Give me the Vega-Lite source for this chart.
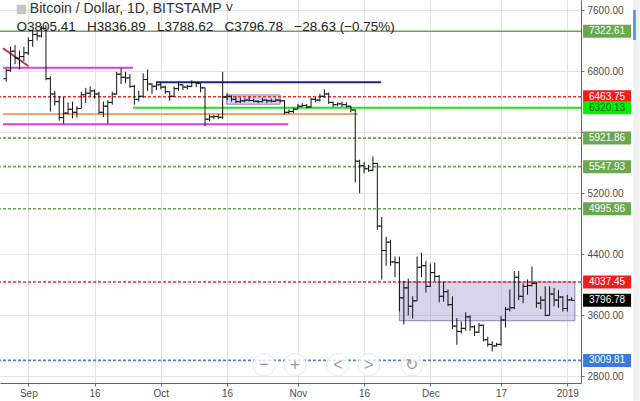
{
"$schema":"https://vega.github.io/schema/vega-lite/v6.json",
"width":581,"height":383,
"autosize":{"type":"none"},
"padding":{"left":0,"top":0,"right":59,"bottom":18},
"background":"#ffffff",
"config":{"view":{"stroke":null},"font":"Liberation Sans"},
"datasets":{
"ohlc":[
{"t":"2018-08-27","o":6700,"h":6830,"l":6660,"c":6810},
{"t":"2018-08-28","o":6810,"h":7120,"l":6790,"c":7060},
{"t":"2018-08-29","o":7060,"h":7140,"l":6890,"c":6970},
{"t":"2018-08-30","o":6970,"h":7070,"l":6820,"c":6990},
{"t":"2018-08-31","o":6990,"h":7120,"l":6930,"c":7040},
{"t":"2018-09-01","o":7040,"h":7240,"l":7010,"c":7200},
{"t":"2018-09-02","o":7200,"h":7340,"l":7120,"c":7280},
{"t":"2018-09-03","o":7280,"h":7320,"l":7200,"c":7260},
{"t":"2018-09-04","o":7260,"h":7390,"l":7240,"c":7360},
{"t":"2018-09-05","o":7360,"h":7400,"l":6680,"c":6700},
{"t":"2018-09-06","o":6700,"h":6730,"l":6270,"c":6500},
{"t":"2018-09-07","o":6500,"h":6540,"l":6350,"c":6400},
{"t":"2018-09-08","o":6400,"h":6470,"l":6150,"c":6190},
{"t":"2018-09-09","o":6190,"h":6460,"l":6110,"c":6250},
{"t":"2018-09-10","o":6250,"h":6390,"l":6230,"c":6300},
{"t":"2018-09-11","o":6300,"h":6400,"l":6180,"c":6260},
{"t":"2018-09-12","o":6260,"h":6340,"l":6190,"c":6310},
{"t":"2018-09-13","o":6310,"h":6530,"l":6310,"c":6490},
{"t":"2018-09-14","o":6490,"h":6580,"l":6380,"c":6510},
{"t":"2018-09-15","o":6510,"h":6600,"l":6470,"c":6540},
{"t":"2018-09-16","o":6540,"h":6560,"l":6440,"c":6500},
{"t":"2018-09-17","o":6500,"h":6530,"l":6240,"c":6260},
{"t":"2018-09-18","o":6260,"h":6400,"l":6200,"c":6340},
{"t":"2018-09-19","o":6340,"h":6420,"l":6110,"c":6390},
{"t":"2018-09-20","o":6390,"h":6530,"l":6360,"c":6500},
{"t":"2018-09-21","o":6500,"h":6790,"l":6490,"c":6760},
{"t":"2018-09-22","o":6760,"h":6840,"l":6630,"c":6720},
{"t":"2018-09-23","o":6720,"h":6790,"l":6640,"c":6710},
{"t":"2018-09-24","o":6710,"h":6760,"l":6580,"c":6600},
{"t":"2018-09-25","o":6600,"h":6620,"l":6360,"c":6430},
{"t":"2018-09-26","o":6430,"h":6540,"l":6400,"c":6470},
{"t":"2018-09-27","o":6470,"h":6770,"l":6450,"c":6690},
{"t":"2018-09-28","o":6690,"h":6820,"l":6540,"c":6630},
{"t":"2018-09-29","o":6630,"h":6640,"l":6500,"c":6600},
{"t":"2018-09-30","o":6600,"h":6650,"l":6550,"c":6620},
{"t":"2018-10-01","o":6620,"h":6650,"l":6560,"c":6590},
{"t":"2018-10-02","o":6590,"h":6610,"l":6500,"c":6530},
{"t":"2018-10-03","o":6530,"h":6530,"l":6410,"c":6470},
{"t":"2018-10-04","o":6470,"h":6600,"l":6460,"c":6570},
{"t":"2018-10-05","o":6570,"h":6650,"l":6540,"c":6620},
{"t":"2018-10-06","o":6620,"h":6625,"l":6550,"c":6590},
{"t":"2018-10-07","o":6590,"h":6620,"l":6560,"c":6600},
{"t":"2018-10-08","o":6600,"h":6680,"l":6590,"c":6650},
{"t":"2018-10-09","o":6650,"h":6655,"l":6590,"c":6640},
{"t":"2018-10-10","o":6640,"h":6640,"l":6520,"c":6580},
{"t":"2018-10-11","o":6580,"h":6585,"l":6080,"c":6170},
{"t":"2018-10-12","o":6170,"h":6230,"l":6140,"c":6200},
{"t":"2018-10-13","o":6200,"h":6225,"l":6170,"c":6205},
{"t":"2018-10-14","o":6205,"h":6235,"l":6170,"c":6195},
{"t":"2018-10-15","o":6195,"h":6790,"l":6170,"c":6460},
{"t":"2018-10-16","o":6460,"h":6510,"l":6420,"c":6470},
{"t":"2018-10-17","o":6470,"h":6480,"l":6400,"c":6430},
{"t":"2018-10-18","o":6430,"h":6470,"l":6380,"c":6400},
{"t":"2018-10-19","o":6400,"h":6450,"l":6380,"c":6410},
{"t":"2018-10-20","o":6410,"h":6440,"l":6390,"c":6420},
{"t":"2018-10-21","o":6420,"h":6460,"l":6400,"c":6415},
{"t":"2018-10-22","o":6415,"h":6440,"l":6390,"c":6405},
{"t":"2018-10-23","o":6405,"h":6420,"l":6380,"c":6400},
{"t":"2018-10-24","o":6400,"h":6450,"l":6390,"c":6420},
{"t":"2018-10-25","o":6420,"h":6430,"l":6380,"c":6410},
{"t":"2018-10-26","o":6410,"h":6440,"l":6390,"c":6405},
{"t":"2018-10-27","o":6405,"h":6440,"l":6395,"c":6420},
{"t":"2018-10-28","o":6420,"h":6430,"l":6390,"c":6410},
{"t":"2018-10-29","o":6410,"h":6420,"l":6230,"c":6260},
{"t":"2018-10-30","o":6260,"h":6300,"l":6240,"c":6270},
{"t":"2018-10-31","o":6270,"h":6320,"l":6250,"c":6300},
{"t":"2018-11-01","o":6300,"h":6370,"l":6300,"c":6340},
{"t":"2018-11-02","o":6340,"h":6380,"l":6330,"c":6350},
{"t":"2018-11-03","o":6350,"h":6370,"l":6310,"c":6330},
{"t":"2018-11-04","o":6330,"h":6450,"l":6320,"c":6430},
{"t":"2018-11-05","o":6430,"h":6460,"l":6390,"c":6420},
{"t":"2018-11-06","o":6420,"h":6500,"l":6400,"c":6470},
{"t":"2018-11-07","o":6470,"h":6560,"l":6450,"c":6500},
{"t":"2018-11-08","o":6500,"h":6520,"l":6370,"c":6390},
{"t":"2018-11-09","o":6390,"h":6400,"l":6330,"c":6360},
{"t":"2018-11-10","o":6360,"h":6390,"l":6340,"c":6370},
{"t":"2018-11-11","o":6370,"h":6400,"l":6330,"c":6360},
{"t":"2018-11-12","o":6360,"h":6390,"l":6320,"c":6340},
{"t":"2018-11-13","o":6340,"h":6345,"l":6260,"c":6290},
{"t":"2018-11-14","o":6290,"h":6300,"l":5340,"c":5620},
{"t":"2018-11-15","o":5620,"h":5640,"l":5200,"c":5560},
{"t":"2018-11-16","o":5560,"h":5610,"l":5460,"c":5520},
{"t":"2018-11-17","o":5520,"h":5570,"l":5480,"c":5500},
{"t":"2018-11-18","o":5500,"h":5680,"l":5490,"c":5590},
{"t":"2018-11-19","o":5590,"h":5600,"l":4720,"c":4770},
{"t":"2018-11-20","o":4770,"h":4890,"l":4070,"c":4450},
{"t":"2018-11-21","o":4450,"h":4630,"l":4250,"c":4560},
{"t":"2018-11-22","o":4560,"h":4590,"l":4250,"c":4300},
{"t":"2018-11-23","o":4300,"h":4370,"l":4100,"c":4290},
{"t":"2018-11-24","o":4290,"h":4370,"l":3650,"c":3830},
{"t":"2018-11-25","o":3830,"h":4050,"l":3480,"c":3960},
{"t":"2018-11-26","o":3960,"h":4080,"l":3600,"c":3720},
{"t":"2018-11-27","o":3720,"h":3850,"l":3560,"c":3790},
{"t":"2018-11-28","o":3790,"h":4370,"l":3790,"c":4230},
{"t":"2018-11-29","o":4230,"h":4420,"l":4100,"c":4250},
{"t":"2018-11-30","o":4250,"h":4310,"l":3900,"c":3980},
{"t":"2018-12-01","o":3980,"h":4280,"l":3970,"c":4160},
{"t":"2018-12-02","o":4160,"h":4290,"l":4050,"c":4110},
{"t":"2018-12-03","o":4110,"h":4130,"l":3770,"c":3850},
{"t":"2018-12-04","o":3850,"h":4040,"l":3780,"c":3910},
{"t":"2018-12-05","o":3910,"h":3940,"l":3720,"c":3740},
{"t":"2018-12-06","o":3740,"h":3850,"l":3420,"c":3460},
{"t":"2018-12-07","o":3460,"h":3565,"l":3215,"c":3390},
{"t":"2018-12-08","o":3390,"h":3520,"l":3360,"c":3430},
{"t":"2018-12-09","o":3430,"h":3640,"l":3400,"c":3580},
{"t":"2018-12-10","o":3580,"h":3600,"l":3400,"c":3450},
{"t":"2018-12-11","o":3450,"h":3470,"l":3330,"c":3380},
{"t":"2018-12-12","o":3380,"h":3500,"l":3370,"c":3470},
{"t":"2018-12-13","o":3470,"h":3480,"l":3260,"c":3280},
{"t":"2018-12-14","o":3280,"h":3320,"l":3190,"c":3220},
{"t":"2018-12-15","o":3220,"h":3260,"l":3130,"c":3200},
{"t":"2018-12-16","o":3200,"h":3240,"l":3190,"c":3220},
{"t":"2018-12-17","o":3220,"h":3590,"l":3200,"c":3540},
{"t":"2018-12-18","o":3540,"h":3710,"l":3440,"c":3680},
{"t":"2018-12-19","o":3680,"h":3940,"l":3650,"c":3700},
{"t":"2018-12-20","o":3700,"h":4180,"l":3680,"c":4100},
{"t":"2018-12-21","o":4100,"h":4180,"l":3800,"c":3850},
{"t":"2018-12-22","o":3850,"h":4020,"l":3760,"c":3980},
{"t":"2018-12-23","o":3980,"h":4070,"l":3870,"c":3990},
{"t":"2018-12-24","o":3990,"h":4240,"l":3980,"c":4020},
{"t":"2018-12-25","o":4020,"h":4040,"l":3700,"c":3760},
{"t":"2018-12-26","o":3760,"h":3850,"l":3680,"c":3800},
{"t":"2018-12-27","o":3800,"h":3980,"l":3590,"c":3600},
{"t":"2018-12-28","o":3600,"h":3980,"l":3600,"c":3880},
{"t":"2018-12-29","o":3880,"h":3960,"l":3720,"c":3800},
{"t":"2018-12-30","o":3800,"h":3930,"l":3700,"c":3840},
{"t":"2018-12-31","o":3840,"h":3850,"l":3650,"c":3690},
{"t":"2019-01-01","o":3690,"h":3870,"l":3650,"c":3800},
{"t":"2019-01-02","o":3805.41,"h":3836.89,"l":3788.62,"c":3796.78}
],
"levels":[
{"p":7322.61,"kind":"green","style":"solid"},
{"p":6463.75,"kind":"red","style":"dashed"},
{"p":6320.13,"kind":"lime","style":"none"},
{"p":5921.86,"kind":"green","style":"dashed"},
{"p":5547.93,"kind":"green","style":"dashed"},
{"p":4995.96,"kind":"green","style":"dashed"},
{"p":4037.45,"kind":"red","style":"dashed"},
{"p":3796.78,"kind":"last","style":"none"},
{"p":3009.81,"kind":"blue","style":"dashed"}
],
"segs":[
{"t":"2018-08-26T06:00:00Z","t2":"2018-09-01T00:00:00Z","p":7099,"p2":6867,"kind":"diag"},
{"t":"2018-08-26T06:00:00Z","t2":"2018-09-24T17:00:00Z","p":6845,"p2":6845,"kind":"magenta"},
{"t":"2018-08-26T06:00:00Z","t2":"2018-10-29T20:00:00Z","p":6104,"p2":6104,"kind":"magenta"},
{"t":"2018-08-26T06:00:00Z","t2":"2018-11-14T15:00:00Z","p":6239,"p2":6239,"kind":"orange"},
{"t":"2018-09-29T21:30:00Z","t2":"2018-11-19T21:00:00Z","p":6654,"p2":6654,"kind":"navy"},
{"t":"2018-09-24T17:00:00Z","t2":"2019-01-04T02:24:00Z","p":6320.13,"p2":6320.13,"kind":"lime"}
],
"boxes":[
{"t":"2018-10-15T22:00:00Z","t2":"2018-10-28T00:00:00Z","p":6488,"p2":6366},
{"t":"2018-11-24T00:00:00Z","t2":"2019-01-02T17:00:00Z","p":4037.45,"p2":3530}
]
},
"layer":[
{"data":{"name":"ohlc"},"mark":{"type":"rule","color":"#111111","strokeWidth":1,"opacity":0},
 "encoding":{
  "x":{"field":"t","type":"temporal",
   "scale":{"type":"utc","domain":[{"year":2018,"month":8,"date":25,"hours":14,"minutes":17,"utc":true},{"year":2019,"month":1,"date":4,"hours":2,"minutes":24,"utc":true}]},
   "axis":{"title":null,"values":[{"year":2018,"month":9,"date":1,"utc":true},{"year":2018,"month":9,"date":16,"utc":true},{"year":2018,"month":10,"date":1,"utc":true},{"year":2018,"month":10,"date":16,"utc":true},{"year":2018,"month":11,"date":1,"utc":true},{"year":2018,"month":11,"date":16,"utc":true},{"year":2018,"month":12,"date":1,"utc":true},{"year":2018,"month":12,"date":17,"utc":true},{"year":2019,"month":1,"date":1,"utc":true}],
    "labelExpr":"utcdate(datum.value) == 1 ? (utcmonth(datum.value) == 0 ? utcFormat(datum.value, '%Y') : utcFormat(datum.value, '%b')) : utcFormat(datum.value, '%-d')",
    "grid":true,"gridColor":"#e2e2e2","domainColor":"#666666","tickColor":"#666666","tickSize":3,"labelPadding":2,"labelFontSize":10,"labelColor":"#4d4d4d","labelFlush":false,"labelOverlap":false}},
  "y":{"field":"l","type":"quantitative","scale":{"domain":[2714,7731],"nice":false,"zero":false},
   "axis":{"title":null,"orient":"right","values":[2800,3200,3600,4000,4400,4800,5200,5600,6000,6400,6800,7200,7600],"format":".2f",
    "labelExpr":"indexof([4000,5600,6000,6400], datum.value) >= 0 ? '' : datum.label",
    "grid":true,"gridColor":"#e2e2e2","domainColor":"#666666","tickColor":"#666666","tickSize":3,"labelPadding":3,"labelFontSize":10,"labelColor":"#4d4d4d","labelOverlap":false}},
  "y2":{"field":"h"}}},
{"data":{"name":"boxes"},"mark":{"type":"rect","fill":"#9c94d0","fillOpacity":0.4,"stroke":"#8e82c5","strokeWidth":1},
 "encoding":{"x":{"field":"t","type":"temporal"},"x2":{"field":"t2"},
  "y":{"field":"p","type":"quantitative"},"y2":{"field":"p2"}}},
{"data":{"name":"levels"},"transform":[{"filter":"datum.style != 'none'"}],
 "mark":{"type":"rule","strokeWidth":1.6},
 "encoding":{"y":{"field":"p","type":"quantitative"},
  "color":{"field":"kind","type":"nominal","scale":{"domain":["green","red","blue"],"range":["#6aa84f","#e8322f","#4a83d6"]},"legend":null},
  "strokeDash":{"field":"style","type":"nominal","scale":{"domain":["solid","dashed"],"range":[[1,0],[3,2]]},"legend":null}}},
{"data":{"name":"segs"},"mark":{"type":"rule"},
 "encoding":{"x":{"field":"t","type":"temporal"},"x2":{"field":"t2"},
  "y":{"field":"p","type":"quantitative"},"y2":{"field":"p2"},
  "color":{"field":"kind","type":"nominal","scale":{"domain":["diag","magenta","orange","navy","lime"],"range":["#c62f3b","#dd3fdd","#f3a56a","#1c2690","#19e619"]},"legend":null},
  "strokeWidth":{"field":"kind","type":"ordinal","scale":{"domain":["diag","magenta","orange","navy","lime"],"range":[2,2,1.5,2,2.5]},"legend":null}}},
{"data":{"name":"ohlc"},"mark":{"type":"rule","color":"#111111","strokeWidth":1},
 "encoding":{"x":{"field":"t","type":"temporal"},"y":{"field":"l","type":"quantitative"},"y2":{"field":"h"}}},
{"data":{"name":"ohlc"},"mark":{"type":"tick","orient":"horizontal","size":3,"thickness":1,"xOffset":-1.5,"color":"#111111","opacity":1},
 "encoding":{"x":{"field":"t","type":"temporal"},"y":{"field":"o","type":"quantitative"}}},
{"data":{"name":"ohlc"},"mark":{"type":"tick","orient":"horizontal","size":3,"thickness":1,"xOffset":1.5,"color":"#111111","opacity":1},
 "encoding":{"x":{"field":"t","type":"temporal"},"y":{"field":"c","type":"quantitative"}}},
{"data":{"name":"levels"},"mark":{"type":"tick","orient":"horizontal","size":48,"thickness":13,"opacity":1},
 "encoding":{"x":{"datum":{"year":2019,"month":1,"date":10,"utc":true},"type":"temporal"},
  "y":{"field":"p","type":"quantitative"},
  "color":{"field":"kind","type":"nominal","scale":{"domain":["green","red","blue","lime","last"],"range":["#6aa84f","#f21d1d","#3a7bd9","#00f000","#000000"]},"legend":null}}},
{"data":{"name":"levels"},"mark":{"type":"text","align":"center","baseline":"middle","fontSize":10},
 "encoding":{"x":{"datum":{"year":2019,"month":1,"date":10,"utc":true},"type":"temporal"},
  "y":{"field":"p","type":"quantitative"},
  "text":{"field":"p","type":"quantitative","format":".2f"},
  "color":{"field":"kind","type":"nominal","scale":{"domain":["green","red","blue","lime","last"],"range":["#ffffff","#ffffff","#ffffff","#235b23","#ffffff"]},"legend":null}}},
{"data":{"values":[{}]},"mark":{"type":"rule","color":"#efefef","strokeWidth":6},
 "encoding":{"x":{"datum":{"year":2019,"month":1,"date":16,"hours":16,"utc":true},"type":"temporal"},
  "y":{"datum":7731,"type":"quantitative"},"y2":{"datum":2483}}},
{"data":{"values":[{}]},"mark":{"type":"rule","color":"#4a90d9","strokeWidth":2.5},
 "encoding":{"x":{"datum":{"year":2019,"month":1,"date":16,"hours":5,"utc":true},"type":"temporal"},
  "y":{"datum":7600,"type":"quantitative"},"y2":{"datum":7207}}},
{"data":{"name":"ohlc"},"transform":[{"filter":"utcFormat(datum.t, '%Y-%m-%d') == '2018-08-30'"}],
 "mark":{"type":"point","shape":"square","filled":true,"size":90,"color":"#c6c6c6","opacity":1,"xOffset":2},
 "encoding":{"x":{"field":"t","type":"temporal"},"y":{"datum":7607,"type":"quantitative"}}},
{"data":{"name":"ohlc"},"transform":[{"filter":"utcFormat(datum.t, '%Y-%m-%d') == '2018-09-01'"}],
 "mark":{"type":"text","text":"Bitcoin / Dollar, 1D, BITSTAMP ˅","align":"left","baseline":"middle","fontSize":14,"color":"#333333","dx":1.5},
 "encoding":{"x":{"field":"t","type":"temporal"},"y":{"datum":7609,"type":"quantitative"}}},
{"data":{"name":"ohlc"},"transform":[{"filter":"utcFormat(datum.t, '%Y-%m-%d') == '2018-08-29'"}],
 "mark":{"type":"text","text":"O3805.41\u00a0\u00a0\u00a0H3836.89\u00a0\u00a0\u00a0L3788.62\u00a0\u00a0\u00a0C3796.78\u00a0\u00a0\u00a0−28.63 (−0.75%)","align":"left","baseline":"middle","fontSize":13.5,"color":"#222222","dx":1.5},
 "encoding":{"x":{"field":"t","type":"temporal"},"y":{"datum":7378,"type":"quantitative"}}},
{"data":{"values":[{}]},"encoding":{"x":{"datum":{"year":2018,"month":10,"date":24,"hours":8,"utc":true},"type":"temporal"},"y":{"datum":2954,"type":"quantitative"}},
 "layer":[{"mark":{"type":"point","shape":"circle","filled":true,"size":490,"color":"#ffffff","opacity":0.8,"stroke":"#e6e6e6","strokeWidth":1}},
  {"mark":{"type":"text","text":"−","fontSize":17,"color":"#9a9a9a","baseline":"middle","align":"center"}}]},
{"data":{"values":[{}]},"encoding":{"x":{"datum":{"year":2018,"month":10,"date":31,"hours":9,"utc":true},"type":"temporal"},"y":{"datum":2954,"type":"quantitative"}},
 "layer":[{"mark":{"type":"point","shape":"circle","filled":true,"size":490,"color":"#ffffff","opacity":0.8,"stroke":"#e6e6e6","strokeWidth":1}},
  {"mark":{"type":"text","text":"+","fontSize":17,"color":"#9a9a9a","baseline":"middle","align":"center"}}]},
{"data":{"values":[{}]},"encoding":{"x":{"datum":{"year":2018,"month":11,"date":10,"hours":2,"utc":true},"type":"temporal"},"y":{"datum":2954,"type":"quantitative"}},
 "layer":[{"mark":{"type":"point","shape":"circle","filled":true,"size":490,"color":"#ffffff","opacity":0.8,"stroke":"#e6e6e6","strokeWidth":1}},
  {"mark":{"type":"text","text":"<","fontSize":16,"color":"#9a9a9a","baseline":"middle","align":"center"}}]},
{"data":{"values":[{}]},"encoding":{"x":{"datum":{"year":2018,"month":11,"date":17,"hours":2,"utc":true},"type":"temporal"},"y":{"datum":2954,"type":"quantitative"}},
 "layer":[{"mark":{"type":"point","shape":"circle","filled":true,"size":490,"color":"#ffffff","opacity":0.8,"stroke":"#e6e6e6","strokeWidth":1}},
  {"mark":{"type":"text","text":">","fontSize":16,"color":"#9a9a9a","baseline":"middle","align":"center"}}]},
{"data":{"values":[{}]},"encoding":{"x":{"datum":{"year":2018,"month":11,"date":26,"hours":20,"utc":true},"type":"temporal"},"y":{"datum":2954,"type":"quantitative"}},
 "layer":[{"mark":{"type":"point","shape":"circle","filled":true,"size":490,"color":"#ffffff","opacity":0.8,"stroke":"#e6e6e6","strokeWidth":1}},
  {"mark":{"type":"text","text":"↻","fontSize":16,"color":"#9a9a9a","baseline":"middle","align":"center"}}]}
],
"resolve":{"scale":{"color":"independent","strokeWidth":"independent"}}
}
